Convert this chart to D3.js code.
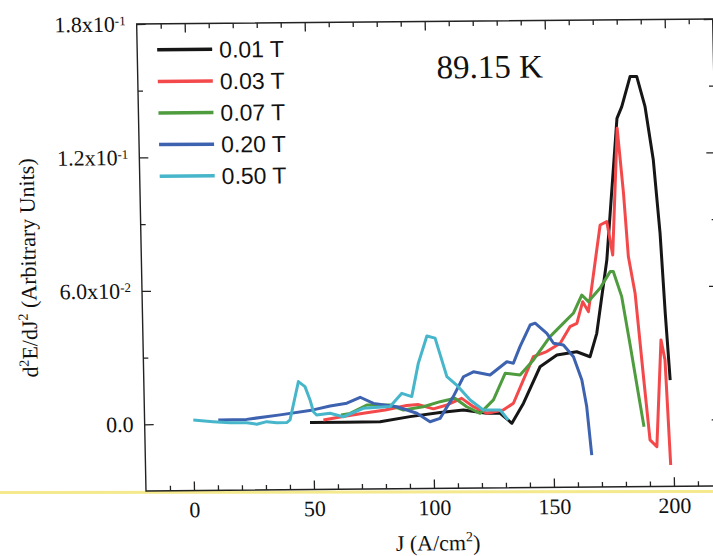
<!DOCTYPE html>
<html>
<head>
<meta charset="utf-8">
<script src="https://cdn.jsdelivr.net/npm/d3@7"></script>
<style>
  body { margin: 0; background: #fff; }
  svg { display: block; }
  .tick line { stroke: #222; stroke-width: 1.3; }
  .serif { font-family: "Liberation Serif", "Times New Roman", serif; fill: #111; }
</style>
</head>
<body>
<div id="chart"></div>
<script>
// legend labels, one per field value
const fields = ["0.01 T", "0.03 T", "0.07 T", "0.20 T", "0.50 T"];

// [J (A/cm2), d2E/dJ2]
const t001 = [[48.9,0.0002],[63.5,0.0001],[78.1,0.0002],[90.6,0.0024],[103.2,0.0041],[112.9,0.0052],
  [122.6,0.0036],[128.2,0.0035],[133.0,-0.0010],[138.0,0.0080],[145.2,0.0243],[152.3,0.0295],
  [160.6,0.0309],[166.1,0.0286],[169.1,0.0391],[173.9,0.0720],[179.3,0.1357],[181.4,0.1409],
  [185.1,0.1544],[187.9,0.1544],[191.1,0.1408],[194.1,0.1168],[196.3,0.0839],[197.8,0.0478],[199.3,0.0178]];

const t003 = [[54.5,0.0012],[61.5,0.0025],[71.2,0.0041],[80.3,0.0055],[89.3,0.0074],[94.0,0.0078],
  [100.4,0.0058],[106.1,0.0075],[112.3,0.0104],[117.1,0.0066],[122.6,0.0036],[129.5,0.0050],
  [133.8,0.0080],[138.1,0.0184],[142.5,0.0289],[148.1,0.0311],[153.8,0.0348],[158.0,0.0422],
  [160.9,0.0437],[163.5,0.0534],[165.8,0.0489],[171.4,0.0878],[174.2,0.0893],[176.4,0.0743],
  [179.3,0.1312],[181.4,0.1020],[182.9,0.0735],[185.4,0.0570],[188.2,0.0194],[190.4,-0.0090],
  [193.2,-0.0121],[195.8,0.0359],[197.3,0.0269],[198.8,-0.0204]];

const t007 = [[61.9,0.0034],[65.7,0.0041],[72.7,0.0078],[82.4,0.0077],[87.9,0.0054],[96.2,0.0068],
  [103.3,0.0090],[109.5,0.0105],[114.3,0.0066],[119.8,0.0036],[125.5,0.0096],[130.6,0.0215],
  [136.8,0.0207],[142.5,0.0274],[149.6,0.0378],[155.3,0.0438],[159.5,0.0482],[163.2,0.0564],
  [165.9,0.0534],[170.9,0.0595],[175.2,0.0668],[176.5,0.0668],[179.8,0.0555],[182.8,0.0345],
  [185.9,0.0120],[188.0,-0.0031]];

const t020 = [[10.7,0.0016],[22.5,0.0018],[36.5,0.0037],[50.3,0.0058],[57.4,0.0075],[64.4,0.0087],
  [70.0,0.0113],[75.5,0.0085],[85.2,0.0069],[93.5,0.0039],[98.9,0.0000],[103.1,0.0015],
  [108.8,0.0112],[113.2,0.0201],[117.4,0.0223],[124.3,0.0208],[131.4,0.0267],[134.1,0.0260],
  [137.0,0.0334],[141.4,0.0431],[143.5,0.0439],[148.3,0.0393],[151.0,0.0348],[155.1,0.0340],
  [159.2,0.0287],[162.5,0.0182],[164.3,0.0062],[166.0,-0.0156]];

const t050 = [[0.3,0.0017],[8.5,0.0009],[15.6,0.0003],[22.5,0.0003],[26.7,-0.0004],[30.9,0.0007],
  [35.0,0.0002],[39.2,0.0002],[40.6,0.0014],[42.9,0.0118],[44.4,0.0186],[47.1,0.0163],
  [49.1,0.0103],[50.4,0.0050],[51.7,0.0035],[57.3,0.0042],[62.8,0.0026],[71.2,0.0063],
  [82.4,0.0070],[87.4,0.0129],[91.5,0.0114],[94.5,0.0263],[98.3,0.0386],[101.7,0.0376],
  [106.3,0.0202],[110.3,0.0164],[115.8,0.0096],[121.2,0.0051],[128.2,0.0050],[131.5,0.0005]];

const allSeries = [t001, t003, t007, t020, t050];
const colors = ["#161616", "#f4494b", "#4f9c3f", "#3d62b0", "#47b6ca"];

const xMajor = [0, 50, 100, 150, 200];
const xMinor = [-10, 10, 20, 30, 40, 60, 70, 80, 90, 110, 120, 130, 140, 160, 170, 180, 190, 210];
const yMajor = [0, 0.06, 0.12, 0.18];
const yMinor = [0.03, 0.09, 0.15];
const yTickText = [["0.0", ""], ["6.0x10", "-2"], ["1.2x10", "-1"], ["1.8x10", "-1"]];

const width = 713, height = 556;
const svg = d3.select("#chart").append("svg")
  .attr("width", width)
  .attr("height", height);

// yellow highlighter streak across the scan
svg.append("line")
  .attr("x1", 0).attr("x2", width)
  .attr("y1", 492.5).attr("y2", 491.5)
  .attr("stroke", "#f3e67a").attr("stroke-width", 3).attr("opacity", 0.85);

// the scanned page sits slightly skewed
const g = svg.append("g")
  .attr("transform", "matrix(1,-0.0088,0.02,1,-9.82,1.285)");

const x = d3.scaleLinear().domain([-20, 220]).range([146, 722]);
const y = d3.scaleLinear().domain([-0.03, 0.18]).range([491, 24]);

function ticks(axis, vals, size) {
  return axis.tickValues(vals).tickSize(size).tickFormat("");
}

g.append("g").attr("transform", "translate(0,491)")
  .call(ticks(d3.axisBottom(x), xMinor, -5));
const gx = g.append("g").attr("transform", "translate(0,491)")
  .call(d3.axisBottom(x).tickValues(xMajor).tickSize(-9).tickPadding(11).tickFormat(d3.format("d")));
g.append("g").attr("transform", "translate(0,24)")
  .call(ticks(d3.axisTop(x), xMinor, -5));
g.append("g").attr("transform", "translate(0,24)")
  .call(ticks(d3.axisTop(x), xMajor, -9));

g.append("g").attr("transform", "translate(146,0)")
  .call(ticks(d3.axisLeft(y), yMinor, -5));
const gy = g.append("g").attr("transform", "translate(146,0)")
  .call(d3.axisLeft(y).tickValues(yMajor).tickSize(-9).tickPadding(11).tickFormat(""));
g.append("g").attr("transform", "translate(722,0)")
  .call(ticks(d3.axisRight(y), yMinor, -5));
g.append("g").attr("transform", "translate(722,0)")
  .call(ticks(d3.axisRight(y), yMajor, -9));

g.selectAll(".domain").remove();

gx.selectAll(".tick text")
  .attr("class", "serif")
  .attr("font-family", null)
  .style("font-size", "22px");

gy.selectAll(".tick text")
  .attr("class", "serif")
  .style("font-size", "22px")
  .each(function (d, i) {
    const t = d3.select(this);
    t.append("tspan").text(yTickText[i][0]);
    if (yTickText[i][1]) {
      t.append("tspan").attr("dy", "-0.5em").style("font-size", "13px").text(yTickText[i][1]);
    }
  });
g.selectAll(".tick text").attr("fill", "#111");

// frame
g.append("rect")
  .attr("x", x(-20)).attr("y", y(0.18))
  .attr("width", x(220) - x(-20)).attr("height", y(-0.03) - y(0.18))
  .attr("fill", "none").attr("stroke", "#222").attr("stroke-width", 1.4);

const line = d3.line()
  .x(function (d) { return x(d[0]); })
  .y(function (d) { return y(d[1]); });

g.selectAll(".curve")
  .data(allSeries).enter()
  .append("path")
    .attr("class", "curve")
    .attr("d", line)
    .attr("fill", "none")
    .attr("stroke", function (d, i) { return colors[i]; })
    .attr("stroke-width", 3)
    .attr("stroke-linejoin", "round");

// legend
const leg = g.selectAll(".leg")
  .data(fields).enter()
  .append("g")
    .attr("class", "leg")
    .attr("transform", function (d, i) { return "translate(166," + (50 + i * 31.6) + ")"; });
leg.append("line")
  .attr("x1", 0).attr("x2", 55)
  .attr("stroke", function (d, i) { return colors[i]; })
  .attr("stroke-width", 3.5);
leg.append("text")
  .attr("x", 62)
  .attr("dy", "0.36em")
  .style("font", "23px 'Liberation Sans', Arial, sans-serif")
  .attr("fill", "#111")
  .text(function (d) { return d; });

g.append("text")
  .attr("class", "serif")
  .attr("x", 445).attr("y", 81)
  .style("font-size", "33px")
  .text("89.15 K");

// axis titles
const xt = g.append("text")
  .attr("class", "serif")
  .attr("x", 437).attr("y", 553)
  .attr("text-anchor", "middle")
  .style("font-size", "22px");
xt.append("tspan").text("J (A/cm");
xt.append("tspan").attr("dy", -9).style("font-size", "14px").text("2");
xt.append("tspan").attr("dy", 9).text(")");

const yt = g.append("text")
  .attr("class", "serif")
  .attr("transform", "translate(32.5,267) rotate(-90)")
  .attr("text-anchor", "middle")
  .attr("dy", "0.35em")
  .style("font-size", "22px");
yt.append("tspan").text("d");
yt.append("tspan").attr("dy", -9).style("font-size", "14px").text("2");
yt.append("tspan").attr("dy", 9).text("E/dJ");
yt.append("tspan").attr("dy", -9).style("font-size", "14px").text("2");
yt.append("tspan").attr("dy", 9).text(" (Arbitrary Units)");
</script>
</body>
</html>
